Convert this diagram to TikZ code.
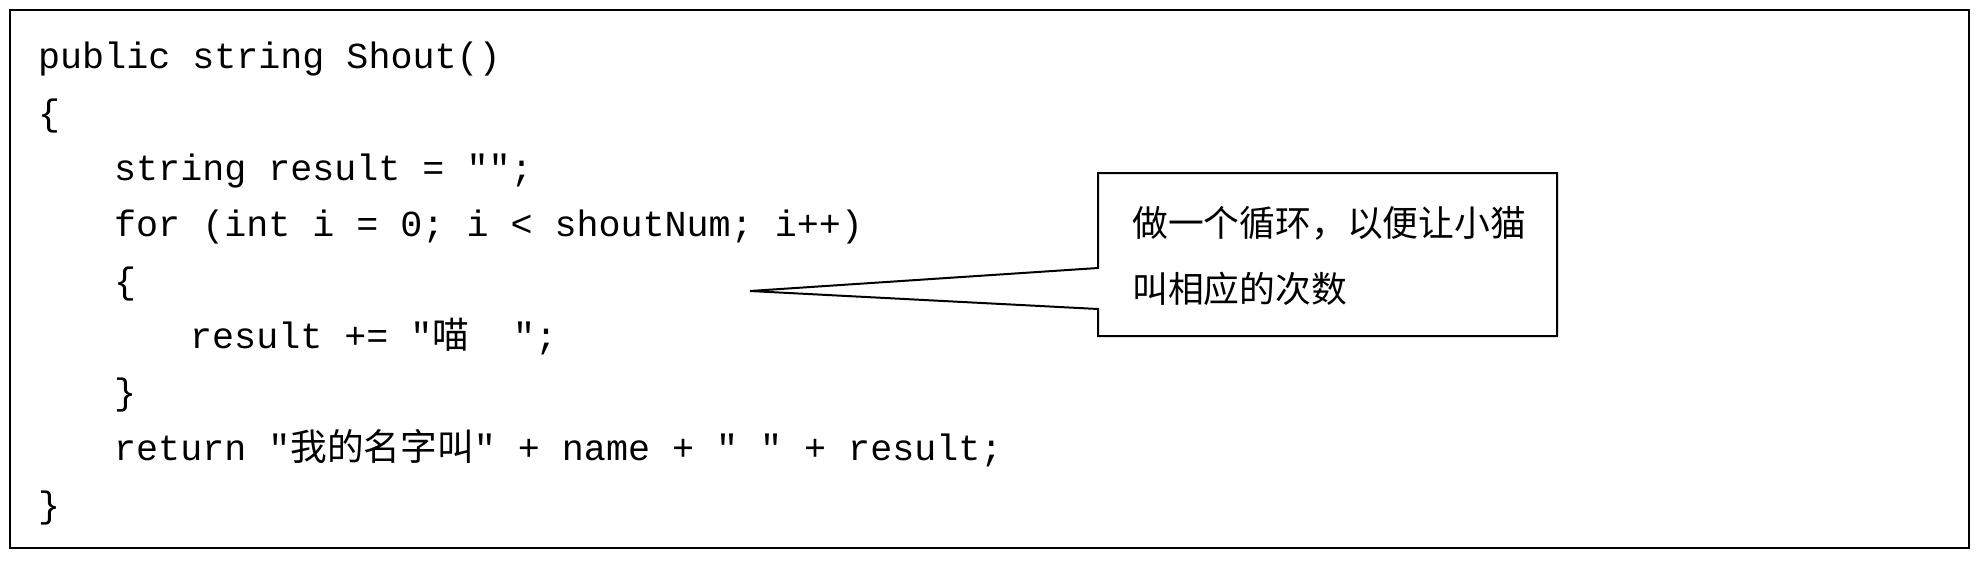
\documentclass[tikz,border=0pt]{standalone}
\usepackage{fontspec}
\setmonofont{Liberation Mono}
\newfontfamily\cjk{Noto Sans CJK SC}
\begin{document}
\begin{tikzpicture}[x=1pt,y=-1pt,
  code/.style={anchor=base west,inner sep=0pt,font=\ttfamily\fontsize{36.7}{40}\selectfont},
  note/.style={anchor=base west,inner sep=0pt,font=\cjk\fontsize{35.8}{40}\selectfont},
  frame/.style={draw,line width=2pt}]
\useasboundingbox (0,0) rectangle (1983,563);
\draw[frame] (10,10) rectangle (1969,548);
\node[code] (l1) at (38,68) {public string Shout()};
\node[code] (l2) at (38,125) {\{};
\node[code] (l3) at (114,180) {string result = "";};
\node[code] (l4) at (114,236) {for (int i = 0; i < shoutNum; i++)};
\node[code] (l5) at (114,293) {\{};
\node[code] (l6) at (190,348) {result += "{\cjk 喵}\ \ ";};
\node[code] (l7) at (114,404) {\}};
\node[code] (l8) at (114,460) {return "{\cjk 我的名字叫}" + name + " " + result;};
\node[code] (l9) at (38,517) {\}};
\draw[frame,line join=miter] (1098,173) -- (1557,173) -- (1557,336) -- (1098,336) -- (1098,309) -- (750,291) -- (1098,268) -- cycle;
\node[note] (c1) at (1132,236) {做一个循环，以便让小猫};
\node[note] (c2) at (1132,302) {叫相应的次数};
\end{tikzpicture}
\end{document}
